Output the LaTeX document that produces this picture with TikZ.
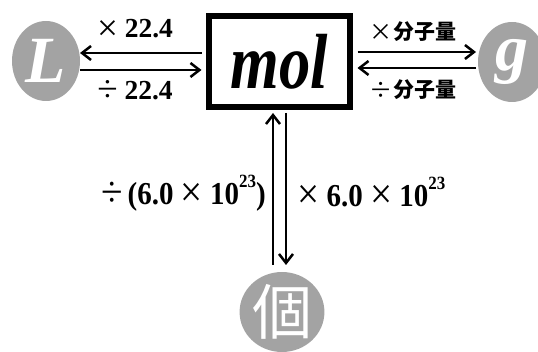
\documentclass[tikz,border=0pt]{standalone}
\usepackage{fontspec}
\setmainfont{Liberation Serif}
\newfontfamily\cjksc{Noto Sans CJK SC}
\newfontfamily\cjktc{Noto Sans CJK TC}
\usetikzlibrary{arrows.meta,shapes.geometric}
\definecolor{circgray}{HTML}{A3A3A3}
\newcommand{\tms}{\raisebox{-0.08em}{\scalebox{1.35}{\mdseries ×}}}
\newcommand{\dvd}{\raisebox{-0.08em}{\scalebox{1.35}{\mdseries ÷}}}
\newcommand{\stms}{\raisebox{-0.04em}{\scalebox{1.1}{\mdseries ×}}}
\newcommand{\sdvd}{\raisebox{-0.04em}{\scalebox{1.1}{\mdseries ÷}}}
\newcommand{\supr}[1]{\raisebox{0.52em}{\fontsize{17}{17}\selectfont #1}}
\tikzset{
  circ/.style={ellipse, fill=circgray, minimum width=68pt, minimum height=80pt, inner sep=0pt, text=white},
  conv/.style={line width=2.7pt, -{Straight Barb[length=9pt,width=14pt,line width=2.5pt]}},
  lbl/.style={font=\fontsize{27.5}{30}\selectfont\bfseries, inner sep=0pt},
  biglbl/.style={font=\fontsize{29}{32}\selectfont\bfseries, inner sep=0pt},
  cjklbl/.style={font=\fontsize{21}{24}\selectfont\cjksc\bfseries, inner sep=0pt},
}
\begin{document}
\begin{tikzpicture}[x=1pt,y=-1pt]
\useasboundingbox (0,0) rectangle (538,352);
\node[circ, font=\fontsize{66}{66}\selectfont\bfseries\itshape] (L) at (46,61) {L};
\node[circ, font=\fontsize{66}{66}\selectfont\bfseries\itshape] (g) at (512,62) {\raisebox{6pt}{g}};
\node[circ, minimum width=70pt, font=\fontsize{60}{60}\selectfont\cjktc] (ge) at (282,312) {個};
\node[draw, line width=6pt, minimum width=141pt, minimum height=91pt, inner sep=0pt,
      font=\fontsize{68}{68}\selectfont\bfseries\itshape] (mol) at (279,61.5) {\scalebox{0.92}[1.15]{mol}};
% left arrows
\coordinate (mL1) at ([xshift=-4pt]mol.west |- 0,53);
\coordinate (mL2) at ([xshift=-4pt]mol.west |- 0,70);
\coordinate (L1) at (80,53);
\coordinate (L2) at (80,70);
\draw[conv] (mL1) -- (L1);
\draw[conv] (L2) -- (mL2);
\node[lbl] (t1) at (135,30) {\tms\ 22.4};
\node[lbl] (t2) at (135,91) {\dvd\ 22.4};
% right arrows
\coordinate (mR1) at ([xshift=5pt]mol.east |- 0,52);
\coordinate (mR2) at ([xshift=5pt]mol.east |- 0,68);
\coordinate (g1) at (476,52);
\coordinate (g2) at (476,68);
\draw[conv] (mR1) -- (g1);
\draw[conv] (g2) -- (mR2);
\node[cjklbl] (t3) at (413,32) {\stms 分子量};
\node[cjklbl] (t4) at (413,90) {\sdvd 分子量};
% vertical arrows
\coordinate (mB1) at (273,113);
\coordinate (mB2) at (286,113);
\coordinate (gb1) at (273,265);
\coordinate (gb2) at (286,265);
\draw[conv] (gb1) -- (mB1);
\draw[conv] (mB2) -- (gb2);
\node[biglbl, anchor=east] (t5) at (266,193) {\scalebox{1}[1.1]{\dvd\,(6.0 \tms\ 10\supr{23})}};
\node[biglbl, anchor=west] (t6) at (297,193) {\scalebox{1}[1.1]{\tms\ 6.0 \tms\ 10\supr{23}}};
\end{tikzpicture}
\end{document}
